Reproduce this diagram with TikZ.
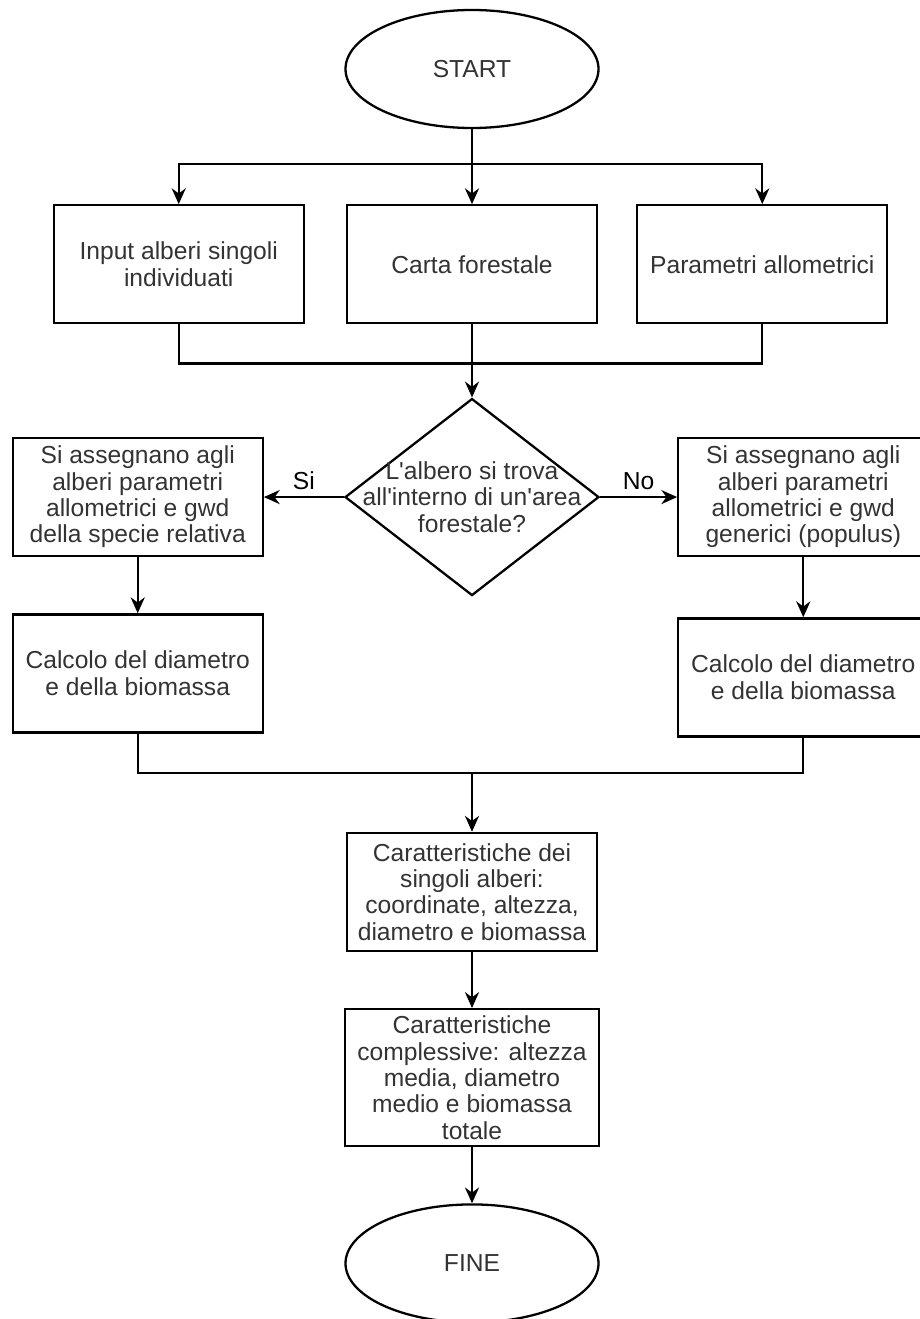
\documentclass[tikz,border=0pt]{standalone}
\usepackage{fontspec}
\setmainfont{Liberation Sans}
\usetikzlibrary{shapes.geometric, arrows.meta, positioning}

\begin{document}
\begin{tikzpicture}[node distance=1.5cm, auto, >={Stealth[length=9pt,width=8pt]},
  font=\fontsize{14}{15}\selectfont,
  terminal/.style={ellipse, draw, line width=1.3pt, minimum width=5.06cm, minimum height=2.36cm, inner sep=0pt, text=black!80},
  block/.style={rectangle, draw, line width=1.3pt, minimum width=5cm, minimum height=2.36cm, align=center, inner sep=2pt, text=black!80},
  decision/.style={diamond, draw, line width=1.3pt, minimum width=5.08cm, minimum height=3.94cm, inner sep=0pt},
  wire/.style={draw, line width=1.3pt},
  line/.style={wire, ->}]

  \useasboundingbox (0,0) rectangle (18.4,-26.38);

  \node [terminal] (start) at (9.44,-1.38) {START};
  \node [block, below=1.5cm of start] (carta) {Carta forestale};
  \node [block, left=0.82cm of carta] (input) {Input alberi singoli\\individuati};
  \node [block, right=0.76cm of carta] (param) {Parametri allometrici};

  \node [decision, below=1.46cm of carta] (check) {};
  \node [align=center, text=black!80] (checktxt) at (check) {L\textquotesingle albero si trova\\all\textquotesingle interno di un\textquotesingle area\\forestale?};

  \node [block, left=1.6cm of check] (specie) {Si assegnano agli\\alberi parametri\\allometrici e gwd\\della specie relativa};
  \node [block, right=1.54cm of check] (generico) {Si assegnano agli\\alberi parametri\\allometrici e gwd\\generici (populus)};
  \node [block, below=1.12cm of specie] (calcsx) {Calcolo del diametro\\e della biomassa};
  \node [block, below=1.2cm of generico] (calcdx) {Calcolo del diametro\\e della biomassa};

  \node [block, below=4.7cm of check] (singoli) {Caratteristiche dei\\singoli alberi:\\coordinate, altezza,\\diametro e biomassa};
  \node [block, below=1.12cm of singoli, minimum width=5.08cm, minimum height=2.74cm] (complessive) {Caratteristiche\\complessive: altezza\\media, diametro\\medio e biomassa\\totale};
  \node [terminal, below=1.12cm of complessive] (fine) {FINE};

  \coordinate [below=0.7cm of start.south] (split);
  \coordinate [below=0.78cm of carta.south] (join);
  \coordinate [above=1.18cm of singoli.north] (merge);

  \path [line] (start) -- (carta);
  \path [line] (split) -| (input.north);
  \path [line] (split) -| (param.north);
  \path [wire] (input.south) |- (join) -| (param.south);
  \path [line] (carta) -- (check);
  \path [line] (check) -- node[above]{Si} (specie);
  \path [line] (check) -- node[above]{No} (generico);
  \path [line] (specie) -- (calcsx);
  \path [line] (generico) -- (calcdx);
  \path [wire] (calcsx.south) |- (merge) -| (calcdx.south);
  \path [line] (merge) -- (singoli);
  \path [line] (singoli) -- (complessive);
  \path [line] (complessive) -- (fine);
\end{tikzpicture}
\end{document}
